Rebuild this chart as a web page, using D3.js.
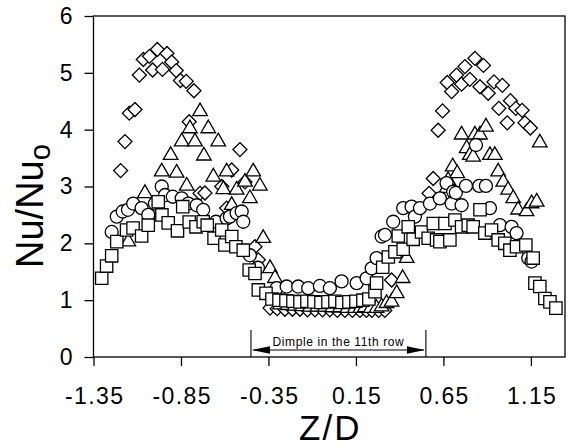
<!DOCTYPE html>
<html>
<head>
<meta charset="utf-8">
<script src="https://cdn.jsdelivr.net/npm/d3@7"></script>
<style>
  html, body { margin: 0; padding: 0; background: #fff; }
  svg { display: block; }
  text { font-family: "Liberation Sans", Arial, Helvetica, sans-serif; fill: #000; }
</style>
</head>
<body>
<svg id="chart" width="572" height="447"></svg>
<script>
// Spanwise Nusselt number ratio, [Z/D, Nu/Nu_o] pairs per data set
const diamonds = [
  [-1.195, 3.28], [-1.170, 3.79], [-1.145, 4.29], [-1.113, 4.355], [-1.088, 4.96],
  [-1.065, 5.235], [-1.030, 5.29], [-1.012, 5.05], [-0.985, 5.41], [-0.956, 5.06],
  [-0.930, 5.34], [-0.903, 5.19], [-0.877, 5.04], [-0.853, 4.865], [-0.820, 4.85],
  [-0.776, 4.685], [-0.803, 4.14], [-0.741, 2.88], [-0.713, 2.885], [-0.617, 3.00],
  [-0.589, 2.62], [-0.560, 3.29], [-0.513, 3.65], [-0.484, 3.08], [-0.427, 1.94],
  [-0.408, 1.71], [-0.341, 0.86], [-0.300, 0.85], [-0.256, 0.84], [-0.213, 0.84],
  [-0.170, 0.84], [-0.127, 0.83], [-0.084, 0.83], [-0.041, 0.83], [0.001, 0.83],
  [0.044, 0.82], [0.087, 0.82], [0.130, 0.82], [0.173, 0.82], [0.210, 0.82],
  [0.241, 0.82], [0.280, 0.82], [0.315, 0.82], [0.354, 1.355], [0.568, 2.88],
  [0.592, 3.14], [0.620, 3.99], [0.645, 4.33], [0.672, 4.83], [0.697, 4.67],
  [0.725, 4.96], [0.754, 4.80], [0.773, 5.11], [0.801, 4.885], [0.830, 5.255],
  [0.859, 4.755], [0.879, 5.13], [0.906, 4.64], [0.939, 4.84], [0.987, 4.78],
  [0.967, 4.375], [1.033, 4.51], [1.064, 4.375], [1.100, 4.34], [1.015, 4.12],
  [1.116, 4.12], [1.147, 4.03]
];

const triangles = [
  [-1.151, 2.03], [-1.056, 2.88], [-0.960, 3.26], [-0.909, 3.55], [-0.875, 3.24],
  [-0.846, 3.79], [-0.817, 3.01], [-0.799, 4.02], [-0.770, 3.79], [-0.741, 4.32],
  [-0.719, 3.54], [-0.694, 4.02], [-0.665, 3.17], [-0.637, 3.79], [-0.608, 2.95],
  [-0.589, 3.26], [-0.560, 2.67], [-0.532, 2.94], [-0.484, 3.08], [-0.456, 2.79],
  [-0.437, 3.26], [-0.399, 3.01], [-0.380, 2.09], [-0.341, 1.56], [-0.313, 1.385],
  [-0.284, 0.92], [-0.240, 0.91], [-0.199, 0.90], [-0.156, 0.89], [-0.113, 0.88],
  [-0.070, 0.88], [-0.027, 0.88], [0.016, 0.87], [0.059, 0.87], [0.101, 0.86],
  [0.144, 0.86], [0.175, 0.86], [0.201, 0.87], [0.235, 0.86], [0.268, 0.86],
  [0.297, 0.885], [0.325, 0.945], [0.354, 0.97], [0.383, 1.12], [0.417, 1.385],
  [0.440, 1.74], [0.668, 2.97], [0.677, 3.11], [0.703, 3.35], [0.729, 3.23],
  [0.754, 3.91], [0.783, 3.67], [0.801, 3.55], [0.820, 3.52], [0.830, 3.91],
  [0.859, 3.91], [0.893, 4.05], [0.916, 3.55], [0.944, 3.55], [0.963, 3.26],
  [0.992, 3.08], [1.020, 2.94], [1.049, 2.79], [1.077, 2.59], [1.125, 2.56],
  [1.154, 2.70], [1.183, 2.73], [1.201, 3.77]
];

const circles = [
  [-1.246, 2.20], [-1.217, 2.47], [-1.183, 2.56], [-1.153, 2.59], [-1.123, 2.70],
  [-1.075, 2.62], [-1.037, 2.50], [-0.999, 2.70], [-0.960, 3.00], [-0.941, 2.85],
  [-0.897, 2.82], [-0.846, 2.79], [-0.808, 2.70], [-0.760, 2.67], [-0.723, 2.59],
  [-0.650, 2.38], [-0.589, 2.44], [-0.570, 2.47], [-0.532, 2.53], [-0.503, 2.56],
  [-0.494, 2.38], [-0.456, 1.79], [-0.410, 1.57], [-0.303, 1.21], [-0.246, 1.24],
  [-0.180, 1.24], [-0.123, 1.21], [-0.056, 1.25], [0.001, 1.21], [0.068, 1.33],
  [0.154, 1.30], [0.211, 1.385], [0.240, 1.56], [0.268, 1.74], [0.297, 2.12],
  [0.316, 2.15], [0.363, 2.38], [0.420, 2.62], [0.468, 2.645], [0.487, 2.47],
  [0.516, 2.62], [0.573, 2.70], [0.630, 2.79], [0.668, 3.06], [0.697, 2.70],
  [0.706, 2.91], [0.721, 2.89], [0.754, 2.67], [0.779, 3.01], [0.836, 3.73],
  [0.855, 3.01], [0.893, 3.01], [0.916, 2.62], [0.973, 2.32], [1.040, 2.29],
  [1.068, 2.18], [1.135, 1.74], [1.154, 1.68]
];

const squares = [
  [-1.303, 1.385], [-1.275, 1.60], [-1.246, 1.78], [-1.217, 2.03], [-1.161, 2.235],
  [-1.124, 2.27], [-1.075, 2.13], [-1.037, 2.32], [-0.980, 2.73], [-0.959, 2.50],
  [-0.923, 2.36], [-0.870, 2.22], [-0.840, 2.645], [-0.803, 2.375], [-0.764, 2.29],
  [-0.723, 2.38], [-0.700, 2.32], [-0.661, 2.09], [-0.617, 2.235], [-0.599, 1.97],
  [-0.560, 2.12], [-0.536, 1.94], [-0.494, 1.88], [-0.460, 1.53], [-0.427, 1.47],
  [-0.408, 1.18], [-0.364, 1.12], [-0.330, 1.02], [-0.290, 1.00], [-0.250, 0.99],
  [-0.210, 0.98], [-0.170, 0.97], [-0.130, 0.98], [-0.090, 0.97], [-0.050, 0.96],
  [-0.010, 0.97], [0.030, 0.98], [0.070, 0.96], [0.110, 0.97], [0.150, 0.98],
  [0.190, 1.00], [0.224, 1.02], [0.259, 1.15], [0.268, 1.30], [0.303, 1.58],
  [0.335, 1.76], [0.373, 1.85], [0.392, 2.13], [0.420, 1.895], [0.449, 2.29],
  [0.477, 2.07], [0.525, 2.20], [0.563, 2.09], [0.592, 2.35], [0.611, 2.06],
  [0.630, 2.03], [0.659, 2.35], [0.687, 2.06], [0.716, 2.41], [0.754, 2.29],
  [0.792, 2.32], [0.820, 2.29], [0.859, 2.59], [0.887, 2.18], [0.925, 2.235],
  [0.963, 2.06], [1.001, 2.00], [1.030, 1.88], [1.068, 1.94], [1.121, 1.97],
  [1.163, 1.74], [1.173, 1.30], [1.201, 1.24], [1.230, 1.03], [1.259, 0.97],
  [1.293, 0.86]
];

const xTicks = [-1.35, -0.85, -0.35, 0.15, 0.65, 1.15];
const yTicks = [0, 1, 2, 3, 4, 5, 6];
const dimpleSpan = [-0.45, 0.55];
const dimpleLabel = "Dimple in the 11th row";

const svg = d3.select("#chart");
const plotLeft = 93.5, plotRight = 565, plotTop = 16, plotBottom = 357;

const x = d3.scaleLinear().domain([-1.35, 1.345]).range([plotLeft, plotRight]);
const y = d3.scaleLinear().domain([0, 6]).range([plotBottom, plotTop]);

// Plot frame
svg.append("rect")
  .attr("x", plotLeft).attr("y", plotTop)
  .attr("width", plotRight - plotLeft).attr("height", plotBottom - plotTop)
  .attr("fill", "none").attr("stroke", "#000").attr("stroke-width", 1.3);

// Axes
const xAxis = svg.append("g")
  .attr("transform", `translate(0,${plotBottom})`)
  .call(d3.axisBottom(x).tickValues(xTicks).tickSize(9).tickPadding(14)
    .tickFormat(d => d.toFixed(2)));
const yAxis = svg.append("g")
  .attr("transform", `translate(${plotLeft},0)`)
  .call(d3.axisLeft(y).tickValues(yTicks).tickSize(9).tickPadding(12)
    .tickFormat(d3.format("d")));

[xAxis, yAxis].forEach(g => {
  g.select(".domain").remove();
  g.selectAll(".tick line").attr("stroke", "#000").attr("stroke-width", 1.3);
  g.selectAll(".tick text")
    .attr("font-size", 23)
    .attr("letter-spacing", "1.4px")
    .attr("font-family", "'Liberation Sans', Arial, sans-serif")
    .attr("fill", "#000");
});
xAxis.selectAll(".tick text").attr("dy", 24).attr("dx", 0.7);
yAxis.selectAll(".tick text").attr("dx", 1.4);

// Axis titles
svg.append("text")
  .attr("x", (plotLeft + plotRight) / 2 + 1).attr("y", 439.5)
  .attr("text-anchor", "middle")
  .attr("font-size", 35)
  .attr("letter-spacing", "2px")
  .text("Z/D");

const yTitle = svg.append("text")
  .attr("transform", "translate(43,268) rotate(-90)")
  .attr("font-size", 38);
yTitle.append("tspan").text("Nu/Nu");
yTitle.append("tspan").attr("font-size", 29).attr("dy", 7).text("o");

// Markers
const markerStyle = sel => sel
  .attr("fill", "#fff").attr("stroke", "#000").attr("stroke-width", 1.3);

const diamondPath = d3.symbol().type(d3.symbolSquare).size(98)();
const trianglePath = d3.symbol().type(d3.symbolTriangle).size(92)();
const circlePath = d3.symbol().type(d3.symbolCircle).size(133)();
const squarePath = d3.symbol().type(d3.symbolSquare).size(152)();

const plot = svg.append("g");

plot.append("g").selectAll("path").data(diamonds).join("path")
  .attr("d", diamondPath)
  .attr("transform", d => `translate(${x(d[0])},${y(d[1])}) rotate(45)`)
  .call(markerStyle);

plot.append("g").selectAll("path").data(triangles).join("path")
  .attr("d", trianglePath)
  .attr("transform", d => `translate(${x(d[0])},${y(d[1])})`)
  .call(markerStyle);

plot.append("g").selectAll("path").data(circles).join("path")
  .attr("d", circlePath)
  .attr("transform", d => `translate(${x(d[0])},${y(d[1])})`)
  .call(markerStyle);

plot.append("g").selectAll("path").data(squares).join("path")
  .attr("d", squarePath)
  .attr("transform", d => `translate(${x(d[0])},${y(d[1])})`)
  .call(markerStyle);

// Dimple extent annotation
const ann = svg.append("g");
const x0 = x(dimpleSpan[0]), x1 = x(dimpleSpan[1]);
[x0, x1].forEach(xx => {
  ann.append("line")
    .attr("x1", xx).attr("x2", xx).attr("y1", 330).attr("y2", plotBottom)
    .attr("stroke", "#000").attr("stroke-width", 1.1);
});
const arrowY = 350;
ann.append("line")
  .attr("x1", x0 + 2).attr("x2", x1 - 2).attr("y1", arrowY).attr("y2", arrowY)
  .attr("stroke", "#000").attr("stroke-width", 1.1);
ann.append("path")
  .attr("d", `M${x0 + 1},${arrowY} L${x0 + 19},${arrowY - 3.8} L${x0 + 19},${arrowY + 3.8} Z`)
  .attr("fill", "#000");
ann.append("path")
  .attr("d", `M${x1 - 1},${arrowY} L${x1 - 19},${arrowY - 3.8} L${x1 - 19},${arrowY + 3.8} Z`)
  .attr("fill", "#000");
ann.append("text")
  .attr("x", (x0 + x1) / 2).attr("y", 345.5)
  .attr("text-anchor", "middle")
  .attr("font-size", 12)
  .attr("letter-spacing", "0.6px")
  .text(dimpleLabel);
</script>
</body>
</html>
